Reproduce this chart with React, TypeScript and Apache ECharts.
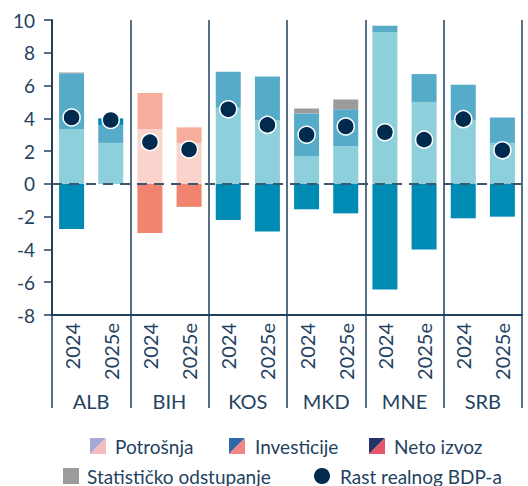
import React, { useEffect, useRef } from "react";
import * as echarts from "echarts";

const countries = ["ALB", "BIH", "KOS", "MKD", "MNE", "SRB"];
const years = ["2024", "2025e"];
const xLabels = countries.flatMap((c) => years.map((y) => `${c} ${y}`));

const potrosnja = [3.35, 2.5, 3.35, 2.5, 4.65, 3.9, 1.7, 2.3, 9.25, 5.0, 3.9, 2.5];
const investicije = [3.4, 1.1, 2.2, 0.95, 2.2, 2.65, 2.6, 2.25, 0.4, 1.7, 2.15, 1.55];
const netoIzvoz = [-2.75, 0.4, -3.0, -1.4, -2.2, -2.9, -1.55, -1.8, -6.45, -4.0, -2.1, -2.0];
const statistika = [0.05, 0, 0, 0, 0, 0, 0.3, 0.6, 0, 0, 0, 0];
const rastBDP = [4.05, 3.9, 2.55, 2.1, 4.55, 3.6, 3.0, 3.5, 3.15, 2.7, 3.95, 2.05];

const tealPalette = { p: "#8dcfda", i: "#56abc8", n: "#008bb5" };
const salmonPalette = { p: "#fad4cc", i: "#f6ad9c", n: "#f0846f" };
const statColor = "#9c9c9c";
const dotColor = "#002b4f";
const axisColor = "#21405e";
const textColor = "#23425f";
const FONT = "Lato";

const colorFor = (idx: number, key: "p" | "i" | "n") =>
  xLabels[idx].startsWith("BIH") ? salmonPalette[key] : tealPalette[key];

export default function App() {
  const ref = useRef<HTMLDivElement>(null);
  useEffect(() => {
    document.body.style.margin = "0";
    if (!ref.current) return;
    const chart = echarts.init(ref.current, undefined, { renderer: "svg" });

    const mk = (vals: number[], key: "p" | "i" | "n") =>
      vals.map((v, i) => ({ value: v, itemStyle: { color: colorFor(i, key) } }));

    const legendText = (x: number, y: number, t: string) => ({
      type: "text",
      x,
      y,
      style: { text: t, fill: textColor, fontSize: 19, fontFamily: FONT, verticalAlign: "middle" },
    });
    const splitIcon = (x: number, y: number, c1: string, c2: string) => ({
      type: "group",
      children: [
        { type: "polygon", shape: { points: [[x, y], [x + 16, y], [x, y + 16]] }, style: { fill: c1 } },
        { type: "polygon", shape: { points: [[x + 16, y], [x + 16, y + 16], [x, y + 16]] }, style: { fill: c2 } },
      ],
    });

    chart.setOption({
      animation: false,
      grid: { left: 52, right: 6, top: 20, bottom: 171, containLabel: false },
      xAxis: [
        {
          type: "category",
          data: xLabels,
          axisLine: { show: false },
          axisTick: { show: false },
          axisLabel: {
            interval: 0,
            rotate: 90,
            margin: 8,
            color: textColor,
            fontSize: 20,
            fontFamily: FONT,
            formatter: (v: string) => v.split(" ")[1],
          },
        },
        {
          type: "category",
          data: countries,
          position: "bottom",
          axisLine: { show: true, lineStyle: { color: axisColor, width: 2 } },
          axisTick: { show: true, interval: 0, length: 93, lineStyle: { color: axisColor, width: 1.5 } },
          splitLine: { show: true, interval: 0, lineStyle: { color: axisColor, width: 1.5 } },
          axisLabel: { interval: 0, margin: 76, color: textColor, fontSize: 20, fontFamily: FONT },
        },
      ],
      yAxis: {
        type: "value",
        min: -8,
        max: 10,
        interval: 2,
        axisLine: { show: true, lineStyle: { color: axisColor, width: 2 } },
        axisTick: { show: true, length: 8, lineStyle: { color: axisColor, width: 1.5 } },
        splitLine: { show: false },
        axisLabel: { margin: 17, color: textColor, fontSize: 19, fontFamily: FONT },
      },
      series: [
        { name: "Potrošnja", type: "bar", stack: "s", barWidth: 25, data: mk(potrosnja, "p") },
        { name: "Investicije", type: "bar", stack: "s", barWidth: 25, data: mk(investicije, "i") },
        { name: "Neto izvoz", type: "bar", stack: "s", barWidth: 25, data: mk(netoIzvoz, "n") },
        {
          name: "Statističko odstupanje",
          type: "bar",
          stack: "s",
          barWidth: 25,
          data: statistika,
          itemStyle: { color: statColor },
        },
        {
          name: "Rast realnog BDP-a",
          type: "scatter",
          data: rastBDP,
          symbolSize: 17,
          itemStyle: { color: dotColor, borderColor: "#ffffff", borderWidth: 1.5, opacity: 1 },
          z: 5,
          markLine: {
            silent: true,
            symbol: "none",
            label: { show: false },
            lineStyle: { color: "#3a5870", width: 2, type: [10, 7] },
            data: [{ yAxis: 0 }],
          },
        },
      ],
      graphic: [
        splitIcon(90, 438, "#a4aad8", "#f7bdbd"),
        legendText(115, 446, "Potrošnja"),
        splitIcon(229, 438, "#2f6aa6", "#ef8585"),
        legendText(255, 446, "Investicije"),
        splitIcon(369, 438, "#253468", "#e4566a"),
        legendText(394, 446, "Neto izvoz"),
        { type: "rect", shape: { x: 63, y: 468, width: 16, height: 16 }, style: { fill: statColor } },
        legendText(87, 476, "Statističko odstupanje"),
        { type: "circle", shape: { cx: 322, cy: 476, r: 8 }, style: { fill: dotColor } },
        legendText(340, 476, "Rast realnog BDP-a"),
      ],
    });
    return () => chart.dispose();
  }, []);
  return <div ref={ref} style={{ width: 528, height: 486 }} />;
}
